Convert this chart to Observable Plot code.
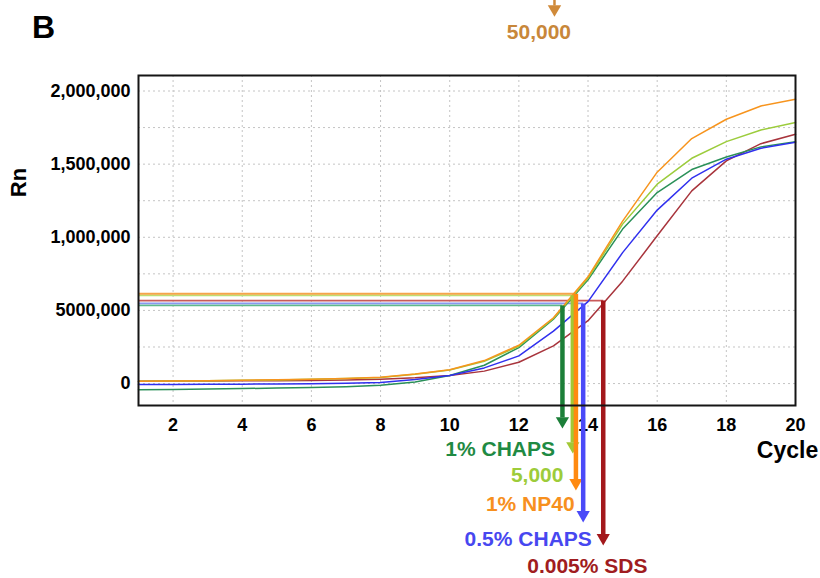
<!DOCTYPE html>
<html>
<head>
<meta charset="utf-8">
<script src="https://cdn.jsdelivr.net/npm/d3@7"></script>
<script src="https://cdn.jsdelivr.net/npm/@observablehq/plot@0.6"></script>
<style>
  body { margin: 0; background: #fff; }
  #chart svg { overflow: visible; }
</style>
</head>
<body>
<div id="chart"></div>
<script>
// ---- Data ----
const cycles = [1,2,3,4,5,6,7,8,9,10,11,12,13,14,15,16,17,18,19,20];

const seriesNames = ["0.005% SDS", "1% CHAPS", "0.5% CHAPS", "5,000", "1% NP40"];
const sds    = [16000,17000,18000,19000,20000,21000,24000,30000,39000,55000,85000,146000,258000,430000,700000,1010000,1317000,1522000,1640000,1704000];
const chaps1 = [-43000,-40000,-37000,-34000,-31000,-27000,-21000,-11000,11000,55000,125000,246000,440000,710000,1056000,1306000,1463000,1549000,1618000,1654000];
const chaps05= [-7000,-6000,-5000,-4000,-3000,-1000,2000,7000,27000,55000,107000,189000,358000,560000,895000,1186000,1404000,1534000,1609000,1650000];
const k5000  = [15000,17000,19000,22000,25000,29000,34000,42000,64000,92000,152000,255000,445000,720000,1090000,1363000,1540000,1654000,1734000,1784000];
const np40   = [16000,18000,20000,23000,26000,30000,35000,43000,66000,95000,157000,262000,450000,730000,1110000,1445000,1675000,1807000,1898000,1943000];
const seriesValues = [sds, chaps1, chaps05, k5000, np40];

// threshold-crossing annotations
const annLabels   = ["1% CHAPS", "5,000", "1% NP40", "0.5% CHAPS", "0.005% SDS"];
const thresholds  = [534000, 603000, 614000, 548000, 567000];
const crossCycles = [13.26, 13.56, 13.65, 13.86, 14.44];
const arrowTips   = [-307000, -478000, -730000, -949000, -1106000];
const labelCycles = [11.46, 12.53, 12.33, 12.27, 13.98];
const labelValues = [-451000, -629000, -828000, -1067000, -1251000];

// top annotation
const topLabel = "50,000";
const topLabelCycle = 12.58, topLabelValue = 2402000;
const topArrowCycle = 13.03, topArrowStart = 2640000, topArrowTip = 2509000;

// axes
const xTicks = [2,4,6,8,10,12,14,16,18,20];
const xGrid  = [2,4,6,8,10,12,14,16,18];
const yTicks = [0, 500000, 1000000, 1500000, 2000000];
const yTickLabels = ["0", "5000,000", "1,000,000", "1,500,000", "2,000,000"];
const yGrid = [0,250000,500000,750000,1000000,1250000,1500000,1750000,2000000];

// ---- Styles ----
const lineColors   = ["#a8343c", "#2a9058", "#3030ee", "#9ccc3c", "#f7941d"];
const annColors    = ["#1c7f38", "#a2c834", "#ff8a10", "#4a4af8", "#a3181c"];
const threshColors = ["#5fb98c", "#bedd72", "#f5a54a", "#8a98f0", "#c95a5a"];
const labelColors  = ["#1f8a43", "#9dcc3a", "#f7901e", "#4747f0", "#a01c20"];
const headPx = 11;           // arrowhead height in px
const pxPerUnit = 330 / (2106000 + 150000);
const headVal = headPx / pxPerUnit;

const rows = [];
seriesNames.forEach((name, s) => cycles.forEach((c, i) => rows.push({name, s, cycle: c, value: seriesValues[s][i]})));

const ann = annLabels.map((label, i) => ({
  i, label, thr: thresholds[i], x: crossCycles[i], tip: arrowTips[i],
  lx: labelCycles[i], ly: labelValues[i]
}));

const marks = [
  Plot.ruleY(yGrid, {stroke: "#c4c4c4", strokeDasharray: "2,3", strokeWidth: 1}),
  Plot.ruleX(xGrid, {stroke: "#c4c4c4", strokeDasharray: "2,3", strokeWidth: 1})
];

// threshold horizontal lines
ann.forEach(a => {
  marks.push(Plot.link([a], {x1: () => 1, x2: "x", y1: "thr", y2: "thr",
    stroke: threshColors[a.i], strokeWidth: 1.8}));
});

// amplification curves
seriesNames.forEach((name, s) => {
  marks.push(Plot.line(rows.filter(r => r.s === s), {x: "cycle", y: "value",
    stroke: lineColors[s], strokeWidth: 1.5}));
});

// vertical arrows
ann.forEach(a => {
  marks.push(Plot.link([a], {x1: "x", x2: "x", y1: "thr", y2: d => d.tip + headVal,
    stroke: annColors[a.i], strokeWidth: 4.5}));
  marks.push(Plot.dot([a], {x: "x", y: "tip", symbol: "triangle", r: 4.9, rotate: 180,
    fill: annColors[a.i], stroke: "none", dy: -7.5}));
  marks.push(Plot.text([a], {x: "lx", y: "ly", text: "label", fill: labelColors[a.i],
    fontSize: 21, fontWeight: "bold"}));
});

// frame
marks.push(Plot.frame({stroke: "#151515", strokeWidth: 2}));

// top annotation
marks.push(Plot.link([{x: topArrowCycle}], {x1: "x", x2: "x", y1: () => topArrowStart, y2: () => topArrowTip + headVal,
  stroke: "#d08a3a", strokeWidth: 2.5}));
marks.push(Plot.dot([{x: topArrowCycle}], {x: "x", y: () => topArrowTip, symbol: "triangle", r: 5, rotate: 180,
  fill: "#d08a3a", dy: -7.5}));
marks.push(Plot.text([topLabel], {x: () => topLabelCycle, y: () => topLabelValue, text: d => d,
  fill: "#c8873a", fontSize: 21, fontWeight: "bold"}));

// panel letter and axis titles
marks.push(Plot.text(["B"], {frameAnchor: "top-left", dx: -95, dy: -48, text: d => d,
  textAnchor: "middle", lineAnchor: "middle", fontSize: 32, fontWeight: "bold", fill: "#000"}));
marks.push(Plot.text(["Rn"], {frameAnchor: "left", dx: -120, dy: -58, rotate: -90, text: d => d,
  textAnchor: "middle", lineAnchor: "middle", fontSize: 22, fontWeight: "bold", fill: "#000"}));
marks.push(Plot.text(["Cycle"], {frameAnchor: "bottom-right", dx: -8, dy: 45, text: d => d,
  textAnchor: "middle", lineAnchor: "middle", fontSize: 23, fontWeight: "bold", fill: "#000"}));

const labelMap = new Map(yTicks.map((v, i) => [v, yTickLabels[i]]));

const chart = Plot.plot({
  width: 820,
  height: 578,
  marginLeft: 138,
  marginRight: 25,
  marginTop: 75,
  marginBottom: 173,
  style: {fontFamily: "'Liberation Sans', Arial, sans-serif", fontSize: "18px", fontWeight: "bold", color: "#000", background: "#fff"},
  x: {domain: [1, 20], ticks: xTicks, tickSize: 0, tickPadding: 13, label: null, tickFormat: d => String(d)},
  y: {domain: [-150000, 2106000], ticks: yTicks, tickSize: 0, tickPadding: 8, label: null, tickFormat: d => labelMap.get(d)},
  marks
});
document.getElementById("chart").appendChild(chart);
</script>
</body>
</html>
